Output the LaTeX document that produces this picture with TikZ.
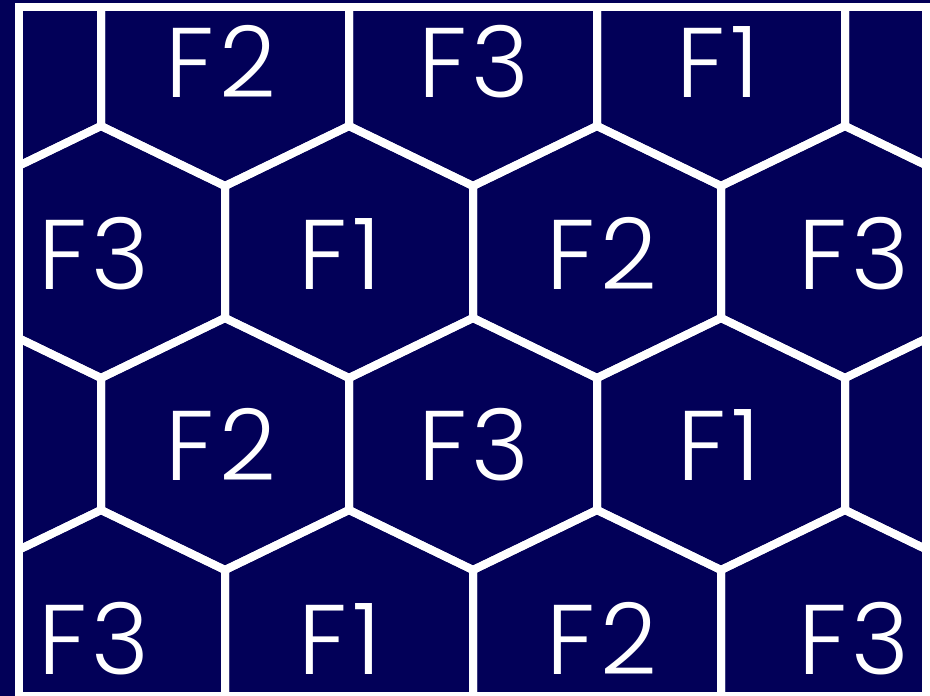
\documentclass[tikz,border=0pt]{standalone}
\usepackage{fontspec}
\IfFontExistsTF{Poppins Light}{\setmainfont{Poppins Light}[LetterSpace=5]}{\setmainfont{Poppins}[LetterSpace=5]}
\definecolor{hexnavy}{RGB}{2,0,88}
\usepackage{tikz}
\usetikzlibrary{positioning}

\begin{document}
\begin{tikzpicture}[x=1pt, y=-1pt,
  hexline/.style={draw=white, line width=8pt, line join=miter},
  celllabel/.style={text=white, font=\fontsize{99}{100}\selectfont,
    inner sep=0pt, text height=74pt, text depth=0pt, anchor=center}]

% Background and clip
\useasboundingbox (0,0) rectangle (930,696);
\fill[hexnavy] (0,0) rectangle (930,696);

\begin{scope}
\clip (22,11) rectangle (922,692);
% Hexagon grid
\foreach \cy/\xs in {60/{-23,225,473,721,969}, 252/{101,349,597,845},
                     444/{-23,225,473,721,969}, 636/{101,349,597,845}} {
  \foreach \cx in \xs {
    \draw[hexline] (\cx,\cy-126) -- (\cx+124,\cy-66) -- (\cx+124,\cy+66)
      -- (\cx,\cy+126) -- (\cx-124,\cy+66) -- (\cx-124,\cy-66) -- cycle;
  }
}
\end{scope}

% Frame
\draw[draw=white, line width=8pt] (19,7) rectangle (926,696);

% Row 1
\node[celllabel] (r1a) at (221,60) {F2};
\node[celllabel] (r1b) at (474,60) {F3};
\node[celllabel] (r1c) at (718,60) {F1};

% Row 2
\node[celllabel] (r2a) at (94,252) {F3};
\node[celllabel] (r2b) at (340,252) {F1};
\node[celllabel] (r2c) at (602,252) {F2};
\node[celllabel] (r2d) at (854,252) {F3};

% Row 3
\node[celllabel] (r3a) at (221,443) {F2};
\node[celllabel] (r3b) at (474,443) {F3};
\node[celllabel] (r3c) at (719,443) {F1};

% Row 4
\node[celllabel] (r4a) at (94,637) {F3};
\node[celllabel] (r4b) at (340,637) {F1};
\node[celllabel] (r4c) at (602,637) {F2};
\node[celllabel] (r4d) at (854,637) {F3};

\end{tikzpicture}
\end{document}
